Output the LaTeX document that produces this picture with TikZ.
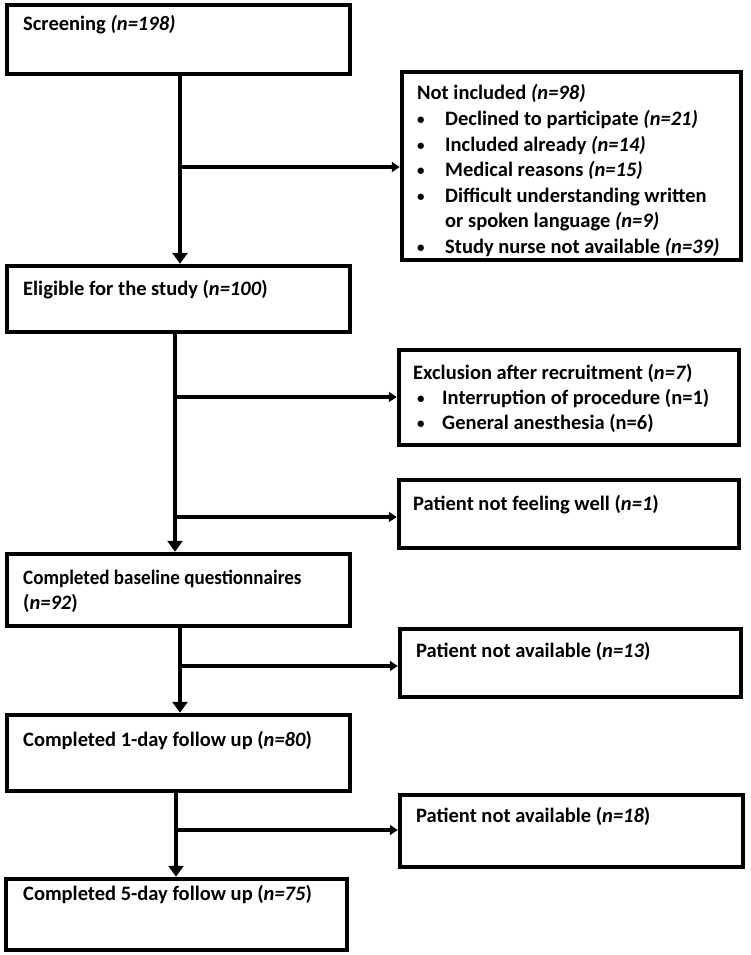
\documentclass[tikz,border=0pt]{standalone}
\usepackage{fontspec}
\setmainfont{Carlito}
\usetikzlibrary{arrows.meta}

\tikzset{
  box/.style={draw=black, line width=4.5pt, inner sep=0pt, fill=white},
  txt/.style={anchor=base west, inner sep=0pt, font=\bfseries\fontsize{20.5}{25}\selectfont},
  dot/.style={anchor=base west, inner sep=0pt, font=\bfseries\fontsize{15}{15}\selectfont},
  trunk/.style={line width=3.5pt, -{Triangle[width=15pt,length=11pt]}},
  branch/.style={line width=3.5pt, -{Triangle[width=10pt,length=8pt]}},
}

\begin{document}
\begin{tikzpicture}[x=1pt,y=-1pt]
\useasboundingbox (0,0) rectangle (751,955);

% main column boxes
\node[box, minimum width=343pt, minimum height=69pt] (screen) at (178.5,39.5) {};
\node[box, minimum width=343pt, minimum height=66pt] (elig)   at (178.5,299) {};
\node[box, minimum width=343pt, minimum height=72pt] (base)   at (178.5,590) {};
\node[box, minimum width=343pt, minimum height=76pt] (day1)   at (178.5,753) {};
\node[box, minimum width=341pt, minimum height=71pt] (day5)   at (176.5,914.5) {};

% side boxes
\node[box, minimum width=339pt, minimum height=188pt] (notinc)  at (571.5,166) {};
\node[box, minimum width=340pt, minimum height=95pt]  (excl)    at (569,397.5) {};
\node[box, minimum width=340pt, minimum height=68pt]  (notwell) at (569,514) {};
\node[box, minimum width=341pt, minimum height=68pt]  (na13)    at (570.5,663) {};
\node[box, minimum width=343pt, minimum height=72pt]  (na18)    at (571.5,831) {};

% texts of the main column
\node[txt] (tscreen) at (23,31) {Screening \textit{(n=198)}};
\node[txt] (telig) at (23,295) {Eligible for the study (\textit{n=100})};
\node[txt] (tbase1) at (23,584) {\scalebox{0.93}[1]{Completed baseline questionnaires}};
\node[txt] (tbase2) at (23,609) {(\textit{n=92})};
\node[txt] (tday1) at (23,746) {Completed 1-day follow up (\textit{n=80})};
\node[txt] (tday5) at (23,900) {Completed 5-day follow up (\textit{n=75})};

% texts of the side boxes
\node[txt] (tni) at (417,100) {Not included \textit{(n=98)}};
\node[dot] (bu1) at (417,124.5) {•};
\node[txt] (ni1) at (445,125.5) {Declined to participate \textit{(n=21)}};
\node[dot] (bu2) at (417,150) {•};
\node[txt] (ni2) at (445,151) {Included already \textit{(n=14)}};
\node[dot] (bu3) at (417,175.5) {•};
\node[txt] (ni3) at (445,176.5) {Medical reasons \textit{(n=15)}};
\node[dot] (bu4) at (417,201) {•};
\node[txt] (ni4) at (445,202) {Difficult understanding written};
\node[txt] (ni5) at (445,227.5) {or spoken language \textit{(n=9)}};
\node[dot] (bu6) at (417,252) {•};
\node[txt] (ni6) at (445,253) {Study nurse not available \textit{(n=39)}};

\node[txt] (tex) at (413,379) {Exclusion after recruitment (\textit{n=7})};
\node[dot] (bx1) at (417,403) {•};
\node[txt] (ex1) at (442,404) {Interruption of procedure (n=1)};
\node[dot] (bx2) at (417,428) {•};
\node[txt] (ex2) at (442,429) {General anesthesia (n=6)};

\node[txt] (twell) at (413,510) {Patient not feeling well (\textit{n=1})};
\node[txt] (t13) at (416,657) {Patient not available (\textit{n=13})};
\node[txt] (t18) at (416,822) {Patient not available (\textit{n=18})};

% trunk connectors and branch points
\coordinate (j1) at (180,167);
\coordinate (j2) at (175,397);
\coordinate (j3) at (175,517);
\coordinate (j4) at (180,666);
\coordinate (j5) at (176,830);

\draw[trunk] (j1 |- screen.south) -- (j1 |- elig.north);
\draw[branch] (j1) -- (j1 -| notinc.west);

\draw[trunk] (j2 |- elig.south) -- (j2 |- base.north);
\draw[branch] (j2) -- (j2 -| excl.west);
\draw[branch] (j3) -- (j3 -| notwell.west);

\draw[trunk] (j4 |- base.south) -- (j4 |- day1.north);
\draw[branch] (j4) -- (j4 -| na13.west);

\draw[trunk] (j5 |- day1.south) -- (j5 |- day5.north);
\draw[branch] (j5) -- (j5 -| na18.west);
\end{tikzpicture}
\end{document}
